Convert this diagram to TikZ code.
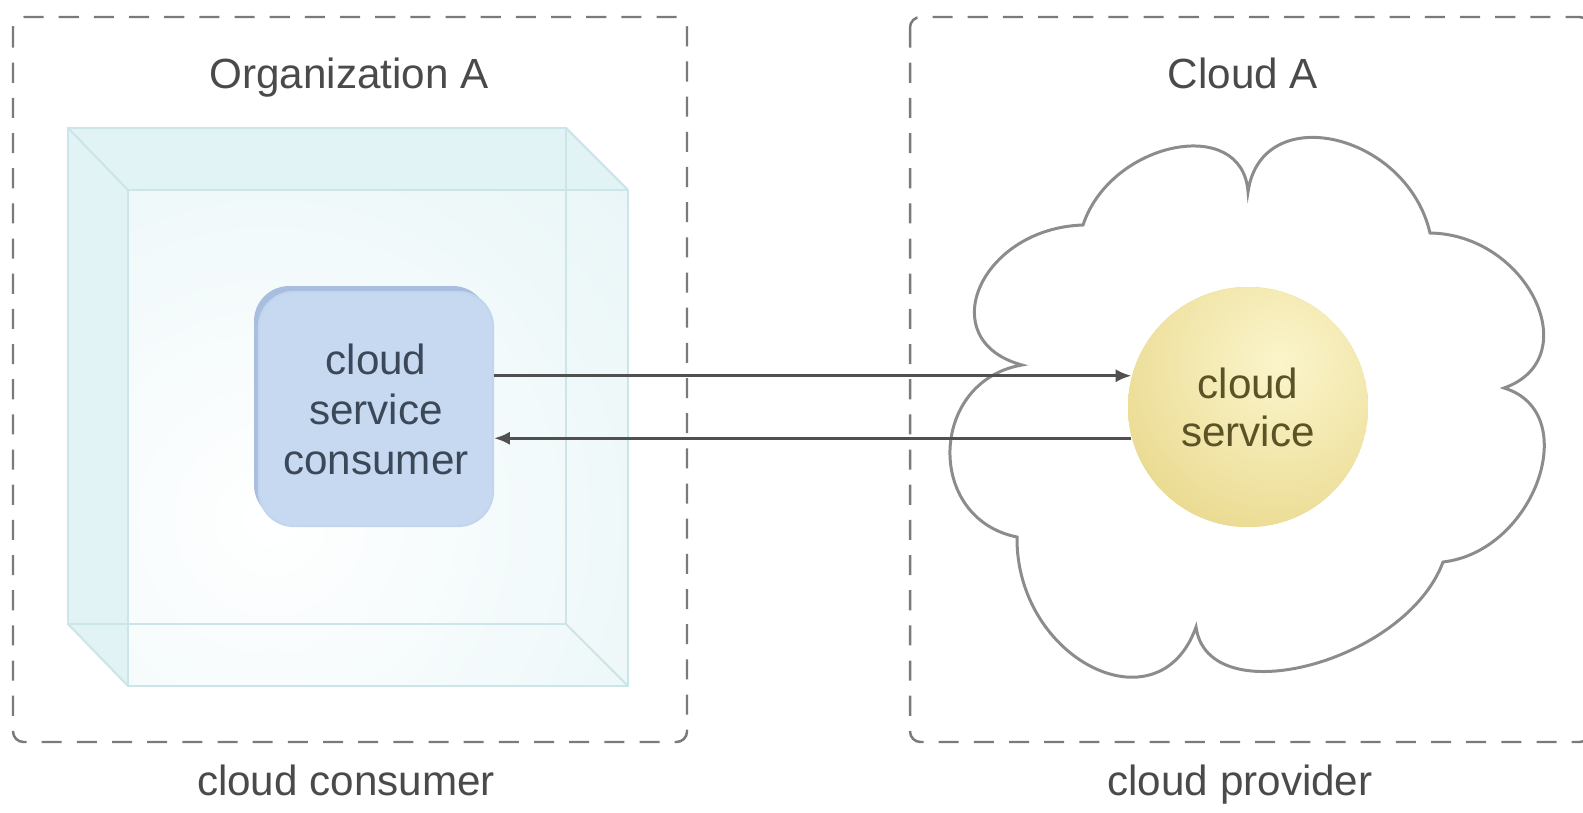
\documentclass[tikz,border=0pt]{standalone}
\usepackage{fontspec}
\setmainfont{Liberation Sans}
\usetikzlibrary{arrows.meta,calc}
\definecolor{dashgray}{HTML}{7A7A7A}
\definecolor{titlegray}{HTML}{4A4A4A}
\definecolor{cubefill}{HTML}{E2F3F5}
\definecolor{cubeedge}{HTML}{CCE5E8}
\definecolor{consfill}{HTML}{C6D9F1}
\definecolor{consbevel}{HTML}{A9BEDF}
\definecolor{constext}{HTML}{3C4858}
\definecolor{svcouter}{HTML}{E4D07A}
\definecolor{svcinner}{HTML}{FBF5CC}
\definecolor{svctext}{HTML}{5A5326}
\definecolor{cloudgray}{HTML}{8C8C8C}
\definecolor{arrowgray}{HTML}{505050}
\begin{document}
\begin{tikzpicture}[x=0.01cm,y=-0.01cm,
  zonebox/.style={draw=dashgray, line width=0.7pt, dash pattern=on 5.7pt off 4.3pt, rounded corners=3pt},
  cubeline/.style={draw=cubeedge, line width=0.6pt},
  cloudline/.style={draw=cloudgray, line width=0.85pt, fill=white},
  consbox/.style={rounded corners=10pt, fill=consfill, draw=consfill!85!consbevel, line width=0.6pt,
    minimum width=2.34cm, minimum height=2.34cm, align=center, text=constext,
    font=\fontsize{12}{14.2}\selectfont},
  svcball/.style={circle, minimum size=2.40cm, inner sep=0pt, align=center, text=svctext,
    font=\fontsize{12}{13.6}\selectfont},
  title/.style={text=titlegray, font=\fontsize{12}{14}\selectfont, anchor=base, inner sep=0pt},
  flow/.style={draw=arrowgray, line width=0.85pt, -{Latex[length=4.5pt,width=3.8pt]}}
]
\useasboundingbox (0,0) rectangle (1583,812);
\clip (0,0) rectangle (1583,812);

% zones
\draw[zonebox] (13,17) rectangle (687,742);
\draw[zonebox] (910,17) rectangle (1590,742);

% titles and captions
\node[title] (orgA) at (349,88) {Organization A};
\node[title] (cloudA) at (1243,88) {Cloud A};
\node[title] (consumerlbl) at (346,795) {cloud consumer};
\node[title] (providerlbl) at (1240,795) {cloud provider};

% transparent cube (organization)
\fill[cubefill] (68,128) -- (566,128) -- (628,190) -- (628,686) -- (128,686) -- (68,624) -- cycle;
\begin{scope}
  \clip (128,190) rectangle (628,686);
  \shade[inner color=white, outer color=cubefill] (270,520) circle (640);
\end{scope}
\draw[cubeline] (68,128) rectangle (566,624);
\draw[cubeline] (128,190) rectangle (628,686);
\draw[cubeline] (68,128) -- (128,190);
\draw[cubeline] (566,128) -- (628,190);
\draw[cubeline] (566,624) -- (628,686);
\draw[cubeline] (68,624) -- (128,686);

% cloud outline
\draw[cloudline] (1083,225)
  .. controls (1110.8,141) and (1242.8,114.6) .. (1248,192)
  .. controls (1260.9,99.4) and (1406.5,132.2) .. (1430,233)
  .. controls (1528.1,234.5) and (1587.3,358.5) .. (1504,388)
  .. controls (1583.9,412.1) and (1535.1,551.3) .. (1443,562)
  .. controls (1405.6,662.5) and (1208,714.5) .. (1196,627)
  .. controls (1158.8,731.3) and (1015.6,659.3) .. (1017,537)
  .. controls (924.8,518.5) and (928.8,380.9) .. (1022,365)
  .. controls (931.4,340.3) and (980.2,228.3) .. (1083,225) -- cycle;

% cloud service consumer
\fill[consbevel, rounded corners=10pt] (254,286) rectangle (488,520);
\node[consbox] (cons) at (376,409) {cloud\\service\\consumer};

% cloud service
\begin{scope}
  \clip (1248,407) circle (120);
  \fill[svcouter] (1248,407) circle (120);
  \shade[inner color=svcinner, outer color=svcouter] (1280,362) circle (250);
\end{scope}
\node[svcball] (svc) at (1248,407) {cloud\\service};

% connectors
\draw[flow] (cons.east |- svc.165) -- (svc.165);
\draw[flow] (svc.195) -- (cons.east |- svc.195);
\end{tikzpicture}
\end{document}
